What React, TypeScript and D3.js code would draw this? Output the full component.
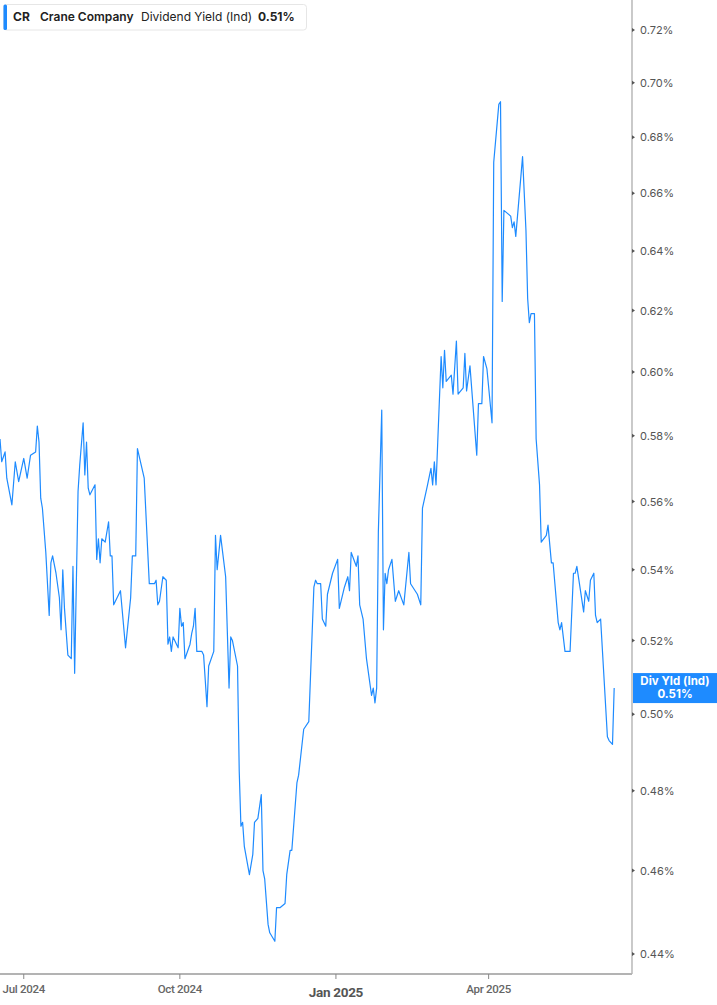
import * as d3 from 'd3';

const DATES: string[] = [
  '2024-06-17', '2024-06-18', '2024-06-20', '2024-06-21', '2024-06-24', '2024-06-26', '2024-06-28',
  '2024-07-01', '2024-07-03', '2024-07-05', '2024-07-08', '2024-07-09', '2024-07-10', '2024-07-11',
  '2024-07-12', '2024-07-14', '2024-07-16', '2024-07-17', '2024-07-18', '2024-07-20', '2024-07-22',
  '2024-07-23', '2024-07-24', '2024-07-25', '2024-07-27', '2024-07-29', '2024-07-30', '2024-07-31',
  '2024-08-02', '2024-08-03', '2024-08-05', '2024-08-06', '2024-08-07', '2024-08-08', '2024-08-09',
  '2024-08-12', '2024-08-13', '2024-08-14', '2024-08-15', '2024-08-16', '2024-08-18', '2024-08-20',
  '2024-08-21', '2024-08-22', '2024-08-23', '2024-08-27', '2024-08-30', '2024-09-02', '2024-09-03',
  '2024-09-05', '2024-09-06', '2024-09-10', '2024-09-13', '2024-09-16', '2024-09-17', '2024-09-18',
  '2024-09-19', '2024-09-21', '2024-09-23', '2024-09-24', '2024-09-25', '2024-09-26', '2024-09-27',
  '2024-09-30', '2024-10-01', '2024-10-02', '2024-10-03', '2024-10-04', '2024-10-07', '2024-10-08',
  '2024-10-09', '2024-10-10', '2024-10-11', '2024-10-14', '2024-10-15', '2024-10-16', '2024-10-17',
  '2024-10-18', '2024-10-21', '2024-10-22', '2024-10-23', '2024-10-25', '2024-10-28', '2024-10-30',
  '2024-10-31', '2024-11-01', '2024-11-04', '2024-11-05', '2024-11-06', '2024-11-07', '2024-11-08',
  '2024-11-11', '2024-11-13', '2024-11-14', '2024-11-16', '2024-11-18', '2024-11-19', '2024-11-20',
  '2024-11-22', '2024-11-23', '2024-11-26', '2024-11-27', '2024-11-29', '2024-12-02', '2024-12-03',
  '2024-12-05', '2024-12-06', '2024-12-09', '2024-12-10', '2024-12-13', '2024-12-16', '2024-12-19',
  '2024-12-20', '2024-12-21', '2024-12-23', '2024-12-24', '2024-12-26', '2024-12-27', '2024-12-30',
  '2025-01-02', '2025-01-03', '2025-01-06', '2025-01-08', '2025-01-09', '2025-01-10', '2025-01-13',
  '2025-01-14', '2025-01-15', '2025-01-17', '2025-01-19', '2025-01-22', '2025-01-23', '2025-01-24',
  '2025-01-25', '2025-01-26', '2025-01-28', '2025-01-29', '2025-01-30', '2025-01-31', '2025-02-01',
  '2025-02-03', '2025-02-05', '2025-02-07', '2025-02-10', '2025-02-13', '2025-02-14', '2025-02-18',
  '2025-02-20', '2025-02-21', '2025-02-24', '2025-02-26', '2025-02-27', '2025-02-28', '2025-03-01',
  '2025-03-02', '2025-03-04', '2025-03-05', '2025-03-06', '2025-03-07', '2025-03-10', '2025-03-11',
  '2025-03-13', '2025-03-14', '2025-03-17', '2025-03-18', '2025-03-19', '2025-03-21', '2025-03-25',
  '2025-03-26', '2025-03-28', '2025-03-29', '2025-03-31', '2025-04-03', '2025-04-04', '2025-04-07',
  '2025-04-08', '2025-04-09', '2025-04-10', '2025-04-14', '2025-04-15', '2025-04-16', '2025-04-17',
  '2025-04-21', '2025-04-23', '2025-04-24', '2025-04-25', '2025-04-26', '2025-04-28', '2025-04-29',
  '2025-05-01', '2025-05-02', '2025-05-05', '2025-05-06', '2025-05-08', '2025-05-09', '2025-05-12',
  '2025-05-13', '2025-05-14', '2025-05-16', '2025-05-19', '2025-05-21', '2025-05-22', '2025-05-23',
  '2025-05-27', '2025-05-28', '2025-05-30', '2025-05-31', '2025-06-02', '2025-06-03', '2025-06-04',
  '2025-06-06', '2025-06-10', '2025-06-11', '2025-06-13', '2025-06-14',
];

// dividend yield, %
const YIELDS: number[] = [
  0.579, 0.572, 0.575, 0.567, 0.559, 0.572, 0.566,
  0.573, 0.567, 0.574, 0.575, 0.583, 0.578, 0.561,
  0.558, 0.545, 0.527, 0.542, 0.544, 0.539, 0.532,
  0.523, 0.540, 0.529, 0.516, 0.515, 0.541, 0.511,
  0.563, 0.571, 0.584, 0.568, 0.578, 0.564, 0.562,
  0.565, 0.543, 0.549, 0.542, 0.549, 0.548, 0.554,
  0.544, 0.544, 0.530, 0.534, 0.518, 0.532, 0.544,
  0.544, 0.576, 0.567, 0.536, 0.536, 0.537, 0.530,
  0.531, 0.538, 0.537, 0.519, 0.521, 0.517, 0.521,
  0.518, 0.529, 0.524, 0.525, 0.515, 0.519, 0.522,
  0.524, 0.529, 0.517, 0.517, 0.516, 0.509, 0.502,
  0.513, 0.517, 0.550, 0.540, 0.550, 0.538, 0.507,
  0.521, 0.520, 0.513, 0.485, 0.471, 0.472, 0.466,
  0.459, 0.464, 0.472, 0.473, 0.479, 0.460, 0.458,
  0.447, 0.445, 0.443, 0.451, 0.451, 0.452, 0.459,
  0.465, 0.465, 0.482, 0.484, 0.496, 0.498, 0.535,
  0.537, 0.536, 0.536, 0.526, 0.524, 0.533, 0.539,
  0.543, 0.529, 0.535, 0.538, 0.534, 0.545, 0.541,
  0.544, 0.530, 0.526, 0.515, 0.505, 0.507, 0.503,
  0.507, 0.551, 0.588, 0.523, 0.539, 0.536, 0.540,
  0.543, 0.531, 0.534, 0.530, 0.545, 0.536, 0.533,
  0.530, 0.558, 0.565, 0.570, 0.565, 0.572, 0.565,
  0.578, 0.605, 0.595, 0.607, 0.597, 0.599, 0.593,
  0.610, 0.593, 0.595, 0.606, 0.594, 0.602, 0.574,
  0.590, 0.590, 0.605, 0.601, 0.584, 0.671, 0.692,
  0.693, 0.623, 0.654, 0.652, 0.648, 0.650, 0.645,
  0.673, 0.647, 0.624, 0.616, 0.619, 0.619, 0.579,
  0.565, 0.548, 0.550, 0.553, 0.542, 0.542, 0.525,
  0.523, 0.525, 0.517, 0.517, 0.539, 0.539, 0.541,
  0.528, 0.534, 0.531, 0.537, 0.539, 0.527, 0.525,
  0.526, 0.494, 0.493, 0.492, 0.507,
];

const Y_TICKS = [0.44, 0.46, 0.48, 0.5, 0.52, 0.54, 0.56, 0.58, 0.6, 0.62, 0.64, 0.66, 0.68, 0.7, 0.72];
const X_TICKS = ['2024-07-01', '2024-10-01', '2025-01-01', '2025-04-01'];
const X_LABELS = ['Jul 2024', 'Oct 2024', 'Jan 2025', 'Apr 2025'];

const TICKER = 'CR';
const COMPANY = 'Crane Company';
const METRIC = 'Dividend Yield (Ind)';
const SHORT_METRIC = 'Div Yld (Ind)';

const W = 717;
const H = 1005;
const BLUE = '#1e8bff';
const FONT = 'Inter, Roboto, "Noto Sans", sans-serif';

export default function App() {
  const parse = d3.timeParse('%Y-%m-%d');
  const points = DATES.map((d, i) => ({ date: parse(d)!, value: YIELDS[i]! }));

  const plotRight = 632;
  const plotBottom = 974;

  const x = d3.scaleTime()
    .domain([new Date(2024, 5, 17), new Date(2025, 5, 24, 12)])
    .range([0, plotRight]);

  const y = d3.scaleLog()
    .domain([0.44, 0.72])
    .range([954, 30]);

  const line = d3.line<{ date: Date; value: number }>()
    .x(d => x(d.date))
    .y(d => y(d.value));

  const last = points[points.length - 1]!;
  const lastLabel = `${last.value.toFixed(2)}%`;
  const lastY = y(last.value);

  return (
    <div style={{ position: 'absolute', left: 0, top: 0 }}>
      <svg width={W} height={H} style={{ display: 'block', background: '#fff' }}>
        {/* series */}
        <path
          d={line(points) ?? ''}
          fill="none"
          stroke={BLUE}
          strokeWidth={1.2}
          strokeLinejoin="round"
        />

        {/* right axis */}
        <line x1={plotRight} x2={plotRight} y1={0} y2={plotBottom} stroke="#a6a6a6" strokeWidth={1.2} />
        {Y_TICKS.map(t => (
          <g key={t}>
            <path d={`M${plotRight},${y(t) - 2} L${plotRight + 3},${y(t)} L${plotRight},${y(t) + 2} Z`} fill="#555" />
            <text
              x={640} y={y(t)}
              dominantBaseline="central"
              fontFamily={FONT} fontSize={11}
              fill="#555"
            >
              {t.toFixed(2)}%
            </text>
          </g>
        ))}

        {/* bottom axis */}
        <line x1={0} x2={plotRight} y1={plotBottom} y2={plotBottom} stroke="#b3b3b3" strokeWidth={2} />
        {X_TICKS.map((t, i) => {
          const xp = x(parse(t)!);
          const isYear = X_LABELS[i]!.startsWith('Jan');
          return (
            <g key={t}>
              <line x1={xp} x2={xp} y1={plotBottom} y2={plotBottom + 5} stroke="#888" />
              <text
                x={xp} y={isYear ? 997 : 993}
                textAnchor="middle"
                fontFamily='Roboto, "Liberation Sans", sans-serif'
                fontSize={isYear ? 13.5 : 11.5}
                fontWeight={isYear ? 700 : 500}
                fill={isYear ? '#555' : '#666'}
                letterSpacing={-0.3}
              >
                {X_LABELS[i]}
              </text>
            </g>
          );
        })}

        {/* last value label */}
        <rect x={plotRight + 1} y={lastY - 15} width={W - plotRight - 1} height={30} fill={BLUE} />
        <text
          x={675} y={lastY - 3}
          textAnchor="middle" fontFamily={FONT} fontSize={11.5} fontWeight={700} fill="#fff"
        >
          {SHORT_METRIC}
        </text>
        <text
          x={675} y={lastY + 9.5}
          textAnchor="middle" fontFamily={FONT} fontSize={11.5} fontWeight={700} fill="#fff"
        >
          {lastLabel}
        </text>

        {/* legend */}
        <rect x={3.5} y={4.5} width={303} height={25.5} rx={3} fill="#fff" stroke="#e6e6e6" />
        <rect x={3.5} y={4.5} width={3.5} height={25.5} rx={1.5} fill={BLUE} />
        <text y={21} fontFamily={FONT} fontSize={12} fill="#222">
          <tspan x={13} fontWeight={700}>{TICKER}</tspan>
          <tspan x={40} fontWeight={600}>{COMPANY}</tspan>
          <tspan x={141} fontWeight={400}>{METRIC}</tspan>
          <tspan x={258} fontWeight={700}>{lastLabel}</tspan>
        </text>
      </svg>
    </div>
  );
}
